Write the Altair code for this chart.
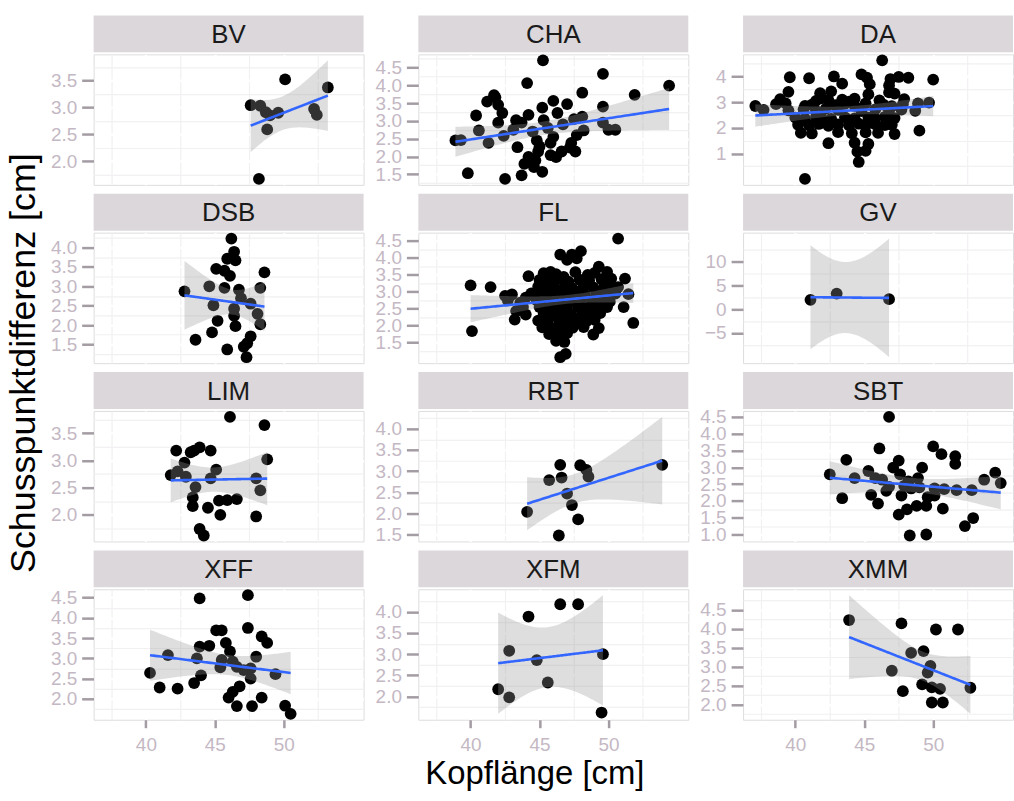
import altair as alt
import numpy as np
import pandas as pd

PANELS = ["BV", "CHA", "DA", "DSB", "FL", "GV", "LIM", "RBT", "SBT", "XFF", "XFM", "XMM"]

BV_x = [47.6, 48.3, 48.7, 49.0, 49.6, 48.8, 50.1, 52.2, 52.4, 53.2, 48.2]
BV_y = [3.04, 3.03, 2.91, 2.85, 2.90, 2.59, 3.52, 2.97, 2.86, 3.37, 1.67]

CHA_x = [45.25, 49.6, 54.4, 44.1, 51.9, 48.1, 41.8, 41.2, 42.3, 42.0,
         49.6, 40.4, 42.0, 40.6, 39.3, 38.9, 41.3, 43.4, 39.8, 42.5,
         43.7, 45.2, 44.2, 43.7, 45.2, 46.0, 47.0, 46.3, 45.3, 48.1,
         48.2, 50.0, 50.5, 44.8, 45.8, 47.3, 47.6, 46.6, 45.8, 44.9,
         44.2, 44.7, 43.9, 42.4, 43.1, 44.5, 45.6, 46.7, 47.5, 46.0,
         45.0, 47.7, 46.2, 44.6, 49.6, 43.3, 41.7, 47.2]
CHA_y = [4.70, 4.32, 3.99, 4.06, 3.73, 3.79, 3.66, 3.54, 3.22, 3.45,
         3.40, 3.15, 2.95, 2.73, 2.46, 2.45, 2.38, 2.26, 1.53, 1.37,
         1.47, 1.57, 3.17, 2.95, 3.37, 3.56, 3.47, 3.22, 3.02, 3.12,
         2.73, 2.75, 2.75, 2.45, 2.38, 2.38, 2.14, 2.14, 2.04, 2.14,
         1.99, 1.89, 1.79, 2.58, 2.75, 2.70, 2.80, 2.90, 3.05, 2.55,
         2.28, 2.60, 1.98, 1.70, 2.95, 3.02, 3.72, 2.25]

DA_x = [39.6, 41.0, 42.8, 44.8, 45.2, 46.9, 47.5, 48.2, 50.0,
        43.4, 45.4, 46.8,
        39.5, 41.8, 42.6, 45.3, 46.8, 47.2,
        38.9, 41.5, 41.9, 42.4, 43.4, 43.9, 44.3, 46.1, 47.9,
        37.1, 38.6, 39.3, 40.7, 41.2, 42.9, 43.6, 44.3, 45.1, 46.4, 47.0, 47.8, 48.9, 49.7,
        37.7, 39.5, 40.6, 41.5, 42.2, 43.1, 44.8, 45.8, 46.8, 47.7, 48.7,
        40.0, 40.7, 41.5, 41.9, 42.6, 43.6, 44.3, 45.3, 45.8, 46.5, 47.2,
        40.2, 41.0, 41.7, 42.4, 43.1, 43.9, 44.6, 45.1, 45.8, 46.5, 47.0,
        40.4, 41.2, 43.1, 44.1, 45.1, 46.0, 47.2,
        42.4, 44.3, 45.3,
        44.5, 45.1,
        44.6, 40.7, 49.0, 46.3]
DA_y = [3.97, 3.93, 4.00, 4.08, 3.95, 3.90, 3.98, 3.95, 3.88,
        3.72, 3.70, 3.65,
        3.40, 3.35, 3.42, 3.30, 3.38, 3.33,
        3.12, 3.05, 3.15, 3.08, 3.10, 3.02, 3.14, 3.07, 3.12,
        2.85, 2.92, 2.95, 2.85, 2.90, 2.88, 2.93, 2.86, 2.95, 2.90, 2.84, 2.92, 2.95, 2.98,
        2.70, 2.68, 2.72, 2.66, 2.74, 2.70, 2.65, 2.72, 2.68, 2.71, 2.66,
        2.40, 2.36, 2.42, 2.38, 2.35, 2.41, 2.37, 2.40, 2.36, 2.43, 2.38,
        2.12, 2.10, 2.15, 2.08, 2.13, 2.10, 2.16, 2.09, 2.14, 2.11, 2.12,
        1.80, 1.78, 1.83, 1.79, 1.82, 1.80, 1.76,
        1.40, 1.42, 1.37,
        1.07, 1.10,
        0.67, 0.01, 1.89, 4.63]

DSB_x = [46.2, 46.4, 45.9, 46.5, 45.1, 45.7, 46.1, 48.6, 48.3, 42.8,
         44.6, 45.7, 46.75, 46.9, 47.6, 44.9, 46.4, 46.4, 48.1, 48.3,
         45.2, 44.8, 46.5, 43.6, 47.6, 47.35, 47.1, 45.9, 47.3]
DSB_y = [4.23, 3.89, 3.71, 3.67, 3.45, 3.40, 3.27, 3.36, 2.96, 2.87,
         3.00, 2.96, 2.91, 2.69, 2.55, 2.51, 2.42, 2.24, 2.29, 2.02,
         2.11, 1.81, 1.97, 1.62, 1.71, 1.53, 1.44, 1.37, 1.17]

FL_x = [40.0, 41.45, 40.1, 50.7, 51.8, 51.1, 46.9, 46.5,
        42.5, 43.0, 42.7, 44.0, 43.6, 43.3, 43.2, 44.0, 44.2, 44.4, 43.8,
        46.5, 47.35, 48.0, 47.7, 47.0, 45.8, 46.75, 49.3, 49.9, 50.2, 51.2, 50.7, 51.45,
        45.3, 46.2, 47.6, 48.5, 49.0,
        45.0, 45.7, 46.4, 47.1, 47.9, 48.6, 49.5,
        44.9, 45.5, 46.0, 46.8, 47.4, 48.2, 48.9, 49.7, 50.3,
        45.1, 45.8, 46.4, 47.0, 47.7, 48.3, 49.1, 49.8, 50.5,
        44.8, 45.4, 46.1, 46.9, 47.5, 48.0, 48.8, 49.5, 50.1,
        45.0, 45.6, 46.3, 47.0, 47.8, 48.5, 49.2, 49.9,
        45.3, 46.0, 46.7, 47.3, 48.1, 48.7, 49.4,
        44.9, 45.6, 46.4, 47.1, 47.8, 48.4, 49.0,
        45.2, 46.0, 46.6, 47.4, 48.2, 49.3,
        45.7, 46.3, 47.0, 48.9,
        46.2, 46.8]
FL_y = [3.19, 3.14, 1.84, 4.57, 2.08, 2.55, 1.17, 1.07,
        2.88, 2.92, 2.75, 2.83, 2.68, 2.43, 2.18, 2.33, 3.46, 2.95, 2.55,
        4.10, 4.10, 4.20, 3.99, 3.94, 3.59, 3.44, 3.74, 3.59, 3.39, 3.39, 3.14, 2.93,
        3.55, 3.52, 3.58, 3.50, 3.56,
        3.35, 3.32, 3.38, 3.30, 3.36, 3.33, 3.37,
        3.15, 3.12, 3.18, 3.14, 3.10, 3.16, 3.13, 3.17, 3.11,
        2.95, 2.92, 2.98, 2.94, 2.96, 2.91, 2.97, 2.93, 2.95,
        2.75, 2.78, 2.72, 2.76, 2.74, 2.77, 2.73, 2.75, 2.71,
        2.55, 2.52, 2.58, 2.54, 2.56, 2.53, 2.57, 2.55,
        2.35, 2.32, 2.38, 2.34, 2.36, 2.33, 2.37,
        2.15, 2.12, 2.18, 2.14, 2.16, 2.13, 2.17,
        1.95, 1.92, 1.98, 1.94, 1.96, 1.93,
        1.75, 1.72, 1.78, 1.74,
        1.55, 1.52]

GV_x = [41.1, 43.0, 46.8]
GV_y = [1.96, 3.27, 2.09]

LIM_x = [46.1, 48.6, 48.8, 42.2, 43.25, 43.9, 43.5, 44.7, 42.8, 41.8,
         42.3, 42.9, 45.1, 44.7, 43.6, 48.0, 48.3, 43.4, 43.4, 44.5,
         45.3, 45.9, 46.6, 45.4, 48.0, 43.9, 44.2]
LIM_y = [3.80, 3.65, 3.02, 3.18, 3.15, 3.24, 3.18, 3.18, 2.96, 2.73,
         2.80, 2.70, 2.83, 2.67, 2.51, 2.67, 2.45, 2.32, 2.16, 2.13,
         2.26, 2.27, 2.29, 2.00, 1.97, 1.74, 1.62]

RBT_x = [44.1, 45.7, 46.5, 46.6, 47.95, 48.4, 48.55, 47.0, 47.35, 47.8, 46.4, 53.9]
RBT_y = [2.04, 2.79, 3.15, 2.85, 3.14, 3.03, 2.87, 2.47, 2.20, 1.86, 1.48, 3.15]

SBT_x = [46.8, 46.1, 43.7, 42.5, 43.4, 44.3, 45.3, 45.5, 46.0, 47.5,
         47.1, 47.6, 46.3, 46.8, 49.2, 48.9, 48.4, 48.2, 47.7, 48.8,
         48.1, 47.5, 49.5, 50.0, 50.6, 51.6, 51.6, 50.1, 50.8, 51.7,
         52.8, 50.1, 50.7, 52.3, 52.9, 53.7, 54.5, 54.9, 48.3, 49.5,
         49.6, 45.8, 46.6, 47.9, 49.0]
SBT_y = [4.50, 3.56, 3.22, 2.79, 2.08, 2.68, 2.89, 2.18, 1.92, 3.20,
         2.99, 2.79, 2.63, 2.42, 2.99, 2.68, 2.37, 2.58, 2.16, 1.85,
         1.75, 1.59, 1.85, 3.62, 3.39, 3.33, 3.10, 2.37, 2.35, 2.32,
         2.32, 2.16, 1.77, 1.25, 1.49, 2.63, 2.84, 2.53, 0.97, 1.00,
         2.11, 2.68, 2.30, 2.45, 2.40]

XFF_x = [43.9, 47.4, 45.1, 45.5, 47.4, 48.4, 48.8, 43.9, 44.6, 45.8,
         46.1, 48.0, 41.6, 43.7, 45.5, 46.3, 46.6, 45.4, 47.1, 47.6,
         47.6, 49.4, 40.3, 44.0, 43.5, 41.0, 42.3, 46.8, 46.3, 46.0,
         48.4, 46.6, 47.7, 50.1, 50.5]
XFF_y = [4.48, 4.56, 3.69, 3.69, 3.75, 3.54, 3.38, 3.29, 3.31, 3.38,
         3.17, 3.04, 3.08, 3.00, 2.96, 2.92, 2.79, 2.78, 2.71, 2.75,
         2.50, 2.61, 2.64, 2.58, 2.39, 2.28, 2.25, 2.31, 2.17, 2.03,
         2.03, 1.82, 1.82, 1.83, 1.63]

XFM_x = [46.5, 47.8, 44.2, 42.8, 44.8, 49.6, 45.6, 42.0, 42.8, 49.5]
XFM_y = [4.18, 4.18, 3.89, 3.08, 2.86, 3.00, 2.33, 2.17, 1.98, 1.62]

XMM_x = [43.9, 47.7, 50.2, 51.8, 48.4, 49.3, 47.0, 49.8, 49.6, 49.2,
         49.9, 50.5, 47.8, 49.9, 50.7, 52.7]
XMM_y = [4.23, 4.14, 3.98, 3.98, 3.36, 3.41, 2.89, 3.02, 2.84, 2.53,
         2.45, 2.41, 2.35, 2.05, 2.05, 2.44]

# axis tick labels as shown in the picture
X_TICKS = [40, 45, 50]
X_MINOR = [37.5, 42.5, 47.5, 52.5]
Y_TICKS = {
    "BV": [2.0, 2.5, 3.0, 3.5],
    "CHA": [1.5, 2.0, 2.5, 3.0, 3.5, 4.0, 4.5],
    "DA": [1, 2, 3, 4],
    "DSB": [1.5, 2.0, 2.5, 3.0, 3.5, 4.0],
    "FL": [1.5, 2.0, 2.5, 3.0, 3.5, 4.0, 4.5],
    "GV": [-5, 0, 5, 10],
    "LIM": [2.0, 2.5, 3.0, 3.5],
    "RBT": [1.5, 2.0, 2.5, 3.0, 3.5, 4.0],
    "SBT": [1.0, 1.5, 2.0, 2.5, 3.0, 3.5, 4.0, 4.5],
    "XFF": [2.0, 2.5, 3.0, 3.5, 4.0, 4.5],
    "XFM": [2.0, 2.5, 3.0, 3.5, 4.0],
    "XMM": [2.0, 2.5, 3.0, 3.5, 4.0, 4.5],
}
INT_LABELS = ["DA", "GV"]
X_TITLE = "Kopflänge [cm]"
Y_TITLE = "Schusspunktdifferenz [cm]"

DATA = {
    "BV": (BV_x, BV_y), "CHA": (CHA_x, CHA_y), "DA": (DA_x, DA_y),
    "DSB": (DSB_x, DSB_y), "FL": (FL_x, FL_y), "GV": (GV_x, GV_y),
    "LIM": (LIM_x, LIM_y), "RBT": (RBT_x, RBT_y), "SBT": (SBT_x, SBT_y),
    "XFF": (XFF_x, XFF_y), "XFM": (XFM_x, XFM_y), "XMM": (XMM_x, XMM_y),
}

# ---- layout / style ----
W, H = 271, 131
STRIP_H = 37
STRIP_GAP = 2
BG = "#E8E5E8"
STRIP_BG = "#DBD7DB"
LAB_C = "#C4B8C4"
TICK_C = "#A39CA3"
MINOR_C = "#F2F0F2"
FONT = "Liberation Sans"

T975 = [12.706, 4.303, 3.182, 2.776, 2.571, 2.447, 2.365, 2.306, 2.262, 2.228,
        2.201, 2.179, 2.160, 2.145, 2.131, 2.120, 2.110, 2.101, 2.093, 2.086,
        2.080, 2.074, 2.069, 2.064, 2.060, 2.056, 2.052, 2.048, 2.045, 2.042]


def tq(df):
    return T975[df - 1] if df <= 30 else 1.96 + 2.4 / df


def smooth(xs, ys, n=80):
    x = np.asarray(xs, float)
    y = np.asarray(ys, float)
    m = len(x)
    xb = x.mean()
    sxx = ((x - xb) ** 2).sum()
    b = ((x - xb) * (y - y.mean())).sum() / sxx
    a = y.mean() - b * xb
    s = np.sqrt(((y - (a + b * x)) ** 2).sum() / (m - 2))
    gx = np.linspace(x.min(), x.max(), n)
    gy = a + b * gx
    se = s * np.sqrt(1.0 / m + (gx - xb) ** 2 / sxx)
    t = tq(m - 2)
    return gx, gy, gy - t * se, gy + t * se


all_x = [v for k in PANELS for v in DATA[k][0]]
xr = max(all_x) - min(all_x)
XDOM = [min(all_x) - 0.05 * xr, max(all_x) + 0.05 * xr]


def make_panel(i, name):
    xs, ys = DATA[name]
    row = i // 3
    bottom = row == 3
    pts = pd.DataFrame({"x": xs, "y": ys})
    gx, gy, lo, hi = smooth(xs, ys)
    fit = pd.DataFrame({"x": gx, "fit": gy, "lo": lo, "hi": hi})
    ylo = min(min(ys), lo.min())
    yhi = max(max(ys), hi.max())
    r = yhi - ylo
    ydom = [ylo - 0.05 * r, yhi + 0.05 * r]
    ticks = Y_TICKS[name]
    step = ticks[1] - ticks[0]
    yminor = [ticks[0] - step / 2 + k * step for k in range(len(ticks) + 1)]
    yminor = [v for v in yminor if ydom[0] < v < ydom[1]]
    xminor = [v for v in X_MINOR if XDOM[0] < v < XDOM[1]]
    fmt = ".0f" if name in INT_LABELS else ".1f"

    xsc = alt.Scale(domain=XDOM, nice=False, zero=False)
    ysc = alt.Scale(domain=ydom, nice=False, zero=False)

    xaxis = alt.Axis(values=X_TICKS, title=None, labels=bottom, ticks=bottom,
                     domain=False, grid=True, gridColor="white", gridWidth=2.4,
                     tickColor=TICK_C, tickSize=8, tickWidth=2.5,
                     labelColor=LAB_C, labelFontSize=19, labelPadding=8,
                     labelOverlap=False, format="d", labelFont=FONT)
    yaxis = alt.Axis(values=ticks, title=None, format=fmt, domain=False,
                     grid=True, gridColor="white", gridWidth=2.4,
                     tickColor=TICK_C, tickSize=12, tickWidth=2.5,
                     labelColor=LAB_C, labelFontSize=19, labelPadding=5,
                     labelOverlap=False, labelFont=FONT)

    minor = alt.Chart(pts).mark_point(opacity=0).encode(
        x=alt.X("x:Q", scale=xsc, axis=alt.Axis(values=xminor, orient="top", labels=False,
                                                 ticks=False, domain=False, grid=True,
                                                 gridColor=MINOR_C, gridWidth=1.2, title=None)),
        y=alt.Y("y:Q", scale=ysc, axis=alt.Axis(values=yminor, orient="right", labels=False,
                                                 ticks=False, domain=False, grid=True,
                                                 gridColor=MINOR_C, gridWidth=1.2, title=None)),
    )
    points = alt.Chart(pts).mark_circle(size=140, color="black", opacity=1).encode(
        x=alt.X("x:Q", scale=xsc, axis=xaxis),
        y=alt.Y("y:Q", scale=ysc, axis=yaxis),
    )
    band = alt.Chart(fit).mark_area(color="#999999", opacity=0.32).encode(
        x=alt.X("x:Q", axis=None),
        y=alt.Y("lo:Q", axis=None),
        y2="hi:Q",
    )
    line = alt.Chart(fit).mark_line(color="#3366FF", strokeWidth=2.6).encode(
        x=alt.X("x:Q", axis=None),
        y=alt.Y("fit:Q", axis=None),
    )
    lab = pd.DataFrame({"name": [name]})
    strip_bg = alt.Chart(lab).mark_rect(color=STRIP_BG).encode(
        x=alt.value(0), x2=alt.value(W),
        y=alt.value(-STRIP_GAP - STRIP_H), y2=alt.value(-STRIP_GAP),
    )
    strip_txt = alt.Chart(lab).mark_text(fontSize=26, color="#1A1A1A", font=FONT,
                                         align="center", baseline="middle").encode(
        text="name:N", x=alt.value(W / 2), y=alt.value(-STRIP_GAP - STRIP_H / 2 + 1),
    )
    layers = [minor, points, band, line, strip_bg, strip_txt]
    if name == "XFM":
        layers.append(alt.Chart(pd.DataFrame({"t": [X_TITLE]})).mark_text(
            fontSize=33, color="black", font=FONT, align="center", baseline="middle").encode(
            text="t:N", x=alt.value(117), y=alt.value(186)))
    if name == "DSB":
        layers.append(alt.Chart(pd.DataFrame({"t": [Y_TITLE]})).mark_text(
            fontSize=36, color="black", font=FONT, align="center", baseline="middle",
            angle=270).encode(
            text="t:N", x=alt.value(-70), y=alt.value(131)))
    return alt.layer(*layers).resolve_axis(x="independent", y="independent").properties(
        width=W, height=H)


panels = [make_panel(i, n) for i, n in enumerate(PANELS)]

chart = alt.concat(*panels, columns=3, spacing={"row": 48, "column": 55},
                   bounds="flush").properties(
    padding={"left": 5, "top": 13, "right": 0, "bottom": 5},
    background="white",
).configure_view(fill=BG, stroke=None).configure(font=FONT)

chart.save("out.html", embed_options={"renderer": "svg", "actions": False})
